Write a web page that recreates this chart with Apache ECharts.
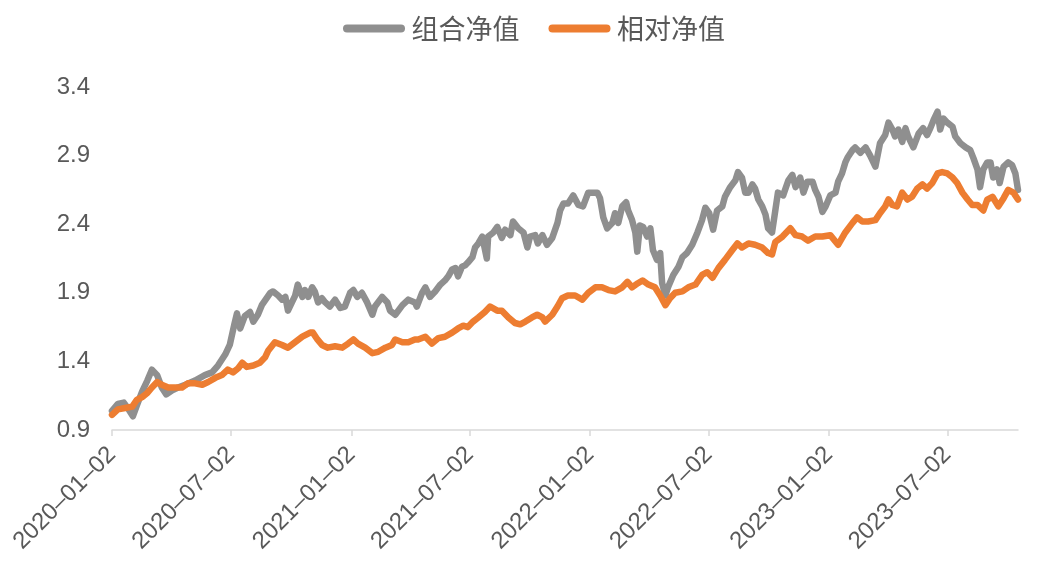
<!DOCTYPE html>
<html><head><meta charset="utf-8">
<script src="https://cdn.jsdelivr.net/npm/echarts@6/dist/echarts.min.js"></script>
<style>html,body{margin:0;padding:0;background:#fff}#c{width:1041px;height:564px}</style>
</head><body><div id="c"></div>
<script>
const seriesNames = ['组合净值', '相对净值'];
const startDate = '2020-01-02';
const endDate = '2023-10-18';
const tickDates = ['2020-01-02','2020-07-02','2021-01-02','2021-07-02','2022-01-02','2022-07-02','2023-01-02','2023-07-02'];
const yMin = 0.9, yMax = 3.4, yStep = 0.5;

const grayDates = ['2020-01-02','2020-01-11','2020-01-20','2020-01-26','2020-02-03','2020-02-09','2020-02-17','2020-02-25','2020-03-03','2020-03-11','2020-03-18','2020-03-25','2020-04-03','2020-04-12','2020-04-23','2020-05-08','2020-05-23','2020-06-03','2020-06-12','2020-06-23','2020-06-30','2020-07-07','2020-07-11','2020-07-16','2020-07-23','2020-07-31','2020-08-05','2020-08-12','2020-08-18',
'2020-08-31','2020-09-04','2020-09-12','2020-09-18','2020-09-23','2020-09-27','2020-10-03','2020-10-08','2020-10-12','2020-10-19','2020-10-23','2020-10-28','2020-11-03','2020-11-07','2020-11-12','2020-11-18','2020-11-23','2020-11-30','2020-12-08','2020-12-16','2020-12-23','2020-12-31',
'2021-01-05','2021-01-11','2021-01-18','2021-01-26','2021-02-03','2021-02-07','2021-02-18','2021-02-26','2021-03-02','2021-03-10','2021-03-21','2021-03-30','2021-04-09',
'2021-04-12','2021-04-20','2021-04-25','2021-05-02','2021-05-10','2021-05-18','2021-05-25','2021-05-30','2021-06-05','2021-06-10','2021-06-14','2021-06-20','2021-06-25','2021-06-29','2021-07-06','2021-07-10','2021-07-15','2021-07-21','2021-07-28','2021-07-30','2021-08-07','2021-08-13','2021-08-20','2021-08-25','2021-09-02','2021-09-06','2021-09-14','2021-09-22','2021-09-28','2021-10-02','2021-10-10','2021-10-14','2021-10-21','2021-10-28','2021-11-05','2021-11-13','2021-11-17','2021-11-22',
'2021-11-29','2021-12-07','2021-12-15','2021-12-22','2021-12-30',
'2022-01-07','2022-01-13','2022-01-17','2022-01-22','2022-01-28','2022-02-05','2022-02-09','2022-02-14','2022-02-20','2022-02-26','2022-03-01','2022-03-07','2022-03-12','2022-03-15','2022-03-19','2022-03-24','2022-03-30','2022-04-04','2022-04-08','2022-04-14','2022-04-19','2022-04-22','2022-04-27','2022-05-01','2022-05-09','2022-05-17','2022-05-23','2022-05-30','2022-06-07','2022-06-15','2022-06-22','2022-06-27',
'2022-07-03','2022-07-09','2022-07-15','2022-07-23','2022-07-27','2022-08-04','2022-08-12','2022-08-16','2022-08-22','2022-08-27','2022-09-01','2022-09-07','2022-09-11','2022-09-16','2022-09-22','2022-09-27','2022-10-01','2022-10-07','2022-10-12','2022-10-16','2022-10-24','2022-11-01','2022-11-07','2022-11-12','2022-11-19','2022-11-24','2022-11-30','2022-12-08','2022-12-12','2022-12-17','2022-12-23','2022-12-28',
'2023-01-04','2023-01-12','2023-01-16','2023-01-22','2023-01-27','2023-01-31','2023-02-07','2023-02-11','2023-02-19','2023-02-27','2023-03-06','2023-03-14','2023-03-21','2023-03-29','2023-04-03','2023-04-09','2023-04-13','2023-04-18','2023-04-24','2023-04-29','2023-05-03','2023-05-11','2023-05-19','2023-05-26','2023-06-01','2023-06-06','2023-06-11','2023-06-17','2023-06-21','2023-06-26','2023-07-02','2023-07-10','2023-07-14','2023-07-22','2023-07-30','2023-08-06','2023-08-11','2023-08-17','2023-08-21','2023-08-26','2023-09-01','2023-09-06','2023-09-10','2023-09-16','2023-09-20','2023-09-26','2023-10-03','2023-10-09','2023-10-14','2023-10-18'];
const grayValues = [1.04,1.09,1.10,1.06,1.00,1.08,1.18,1.26,1.34,1.30,1.21,1.16,1.19,1.21,1.23,1.26,1.30,1.32,1.37,1.45,1.52,1.67,1.75,1.64,1.73,1.76,1.69,1.74,1.81,
1.90,1.91,1.88,1.85,1.87,1.77,1.83,1.88,1.96,1.87,1.92,1.87,1.94,1.91,1.83,1.86,1.83,1.80,1.85,1.79,1.80,1.90,
1.92,1.87,1.90,1.83,1.74,1.80,1.87,1.83,1.77,1.74,1.81,1.85,1.83,
1.80,1.90,1.94,1.87,1.91,1.96,1.99,2.02,2.07,2.08,2.02,2.09,2.10,2.12,2.16,2.23,2.26,2.31,2.15,2.31,2.34,2.38,2.30,2.36,2.32,2.42,2.37,2.34,2.23,2.31,2.32,2.26,2.32,2.25,2.30,2.41,2.50,2.55,
2.55,2.61,2.54,2.53,2.63,
2.63,2.63,2.59,2.45,2.37,2.41,2.48,2.41,2.53,2.56,2.50,2.43,2.34,2.20,2.39,2.38,2.31,2.37,2.21,2.14,2.19,1.97,1.88,1.94,2.03,2.09,2.16,2.19,2.25,2.34,2.43,2.52,
2.48,2.36,2.50,2.53,2.60,2.67,2.72,2.78,2.74,2.63,2.63,2.69,2.66,2.58,2.53,2.47,2.37,2.34,2.50,2.63,2.61,2.72,2.76,2.67,2.74,2.63,2.71,2.71,2.65,2.60,2.49,2.53,
2.61,2.63,2.71,2.77,2.85,2.89,2.94,2.96,2.92,2.96,2.90,2.82,2.99,3.05,3.14,3.09,3.04,3.09,3.00,3.10,3.04,2.96,3.06,3.10,3.05,3.10,3.16,3.22,3.09,3.17,3.14,3.11,3.04,2.99,2.96,2.94,2.88,2.80,2.67,2.80,2.85,2.85,2.74,2.80,2.70,2.82,2.85,2.83,2.77,2.65];

const orangeDates = ['2020-01-02','2020-01-11','2020-01-22','2020-02-02','2020-02-09','2020-02-17','2020-02-25','2020-03-03','2020-03-11','2020-03-18','2020-03-28','2020-04-07','2020-04-18','2020-04-27','2020-05-08','2020-05-19','2020-05-28','2020-06-08','2020-06-18','2020-06-27','2020-07-05','2020-07-13','2020-07-19','2020-07-26','2020-08-05','2020-08-15','2020-08-23','2020-08-28','2020-09-07','2020-09-18','2020-09-27','2020-10-08','2020-10-19','2020-10-31','2020-11-04','2020-11-11','2020-11-18','2020-11-27','2020-12-08','2020-12-19','2020-12-28',
'2021-01-05','2021-01-12','2021-01-23','2021-02-03','2021-02-12','2021-02-23','2021-03-05','2021-03-10','2021-03-21','2021-03-30','2021-04-09','2021-04-14','2021-04-25','2021-05-05','2021-05-15','2021-05-25','2021-06-05','2021-06-14','2021-06-22','2021-06-29','2021-07-07','2021-07-15','2021-07-25','2021-08-02','2021-08-13','2021-08-20','2021-08-30','2021-09-09','2021-09-17','2021-09-25','2021-10-05','2021-10-13','2021-10-21','2021-10-25','2021-11-05','2021-11-13','2021-11-20','2021-11-29','2021-12-10','2021-12-21','2021-12-30',
'2022-01-10','2022-01-20','2022-01-30','2022-02-09','2022-02-20','2022-02-28','2022-03-07','2022-03-16','2022-03-23','2022-04-01','2022-04-11','2022-04-19','2022-04-27','2022-05-04','2022-05-12','2022-05-23','2022-06-01','2022-06-12','2022-06-22','2022-06-30','2022-07-08','2022-07-17','2022-07-27','2022-08-07','2022-08-15','2022-08-22','2022-09-01','2022-09-11','2022-09-22','2022-10-01','2022-10-07','2022-10-12','2022-10-23','2022-11-04','2022-11-12','2022-11-22','2022-12-01','2022-12-12','2022-12-23',
'2023-01-04','2023-01-16','2023-01-27','2023-02-07','2023-02-14','2023-02-22','2023-03-03','2023-03-14','2023-03-21','2023-03-29','2023-04-03','2023-04-09','2023-04-16','2023-04-24','2023-05-02','2023-05-09','2023-05-17','2023-05-25','2023-06-01','2023-06-09','2023-06-17','2023-06-24','2023-07-02','2023-07-10','2023-07-17','2023-07-25','2023-08-02','2023-08-09','2023-08-17','2023-08-26','2023-09-01','2023-09-09','2023-09-18','2023-09-26','2023-10-03','2023-10-11','2023-10-18'];
const orangeValues = [1.01,1.05,1.06,1.07,1.12,1.14,1.17,1.21,1.25,1.23,1.21,1.21,1.21,1.24,1.24,1.23,1.25,1.28,1.30,1.34,1.32,1.35,1.39,1.36,1.37,1.39,1.43,1.48,1.54,1.52,1.50,1.54,1.58,1.61,1.61,1.56,1.52,1.50,1.51,1.50,1.53,
1.56,1.53,1.50,1.46,1.47,1.50,1.52,1.56,1.54,1.54,1.56,1.56,1.58,1.53,1.57,1.58,1.61,1.64,1.66,1.65,1.69,1.72,1.76,1.80,1.77,1.77,1.72,1.68,1.67,1.69,1.72,1.74,1.72,1.69,1.74,1.80,1.86,1.88,1.88,1.85,1.90,
1.94,1.94,1.92,1.91,1.94,1.98,1.94,1.97,1.99,1.96,1.94,1.88,1.81,1.86,1.90,1.91,1.94,1.96,2.03,2.05,2.01,2.08,2.14,2.21,2.26,2.23,2.26,2.25,2.23,2.19,2.18,2.27,2.31,2.37,2.32,2.31,2.28,2.31,2.31,
2.32,2.25,2.34,2.41,2.45,2.42,2.42,2.43,2.48,2.53,2.58,2.54,2.53,2.63,2.58,2.60,2.66,2.69,2.66,2.70,2.77,2.78,2.77,2.74,2.70,2.63,2.58,2.54,2.54,2.50,2.58,2.60,2.53,2.59,2.65,2.63,2.58];

function pad(n){ return (n < 10 ? '0' : '') + n; }
function buildDays(a, b){
  const out = [];
  const p = s => s.split('-').map(Number);
  const [y1,m1,d1] = p(a), [y2,m2,d2] = p(b);
  let t = Date.UTC(y1, m1-1, d1); const end = Date.UTC(y2, m2-1, d2);
  while (t <= end){ const dt = new Date(t); out.push(dt.getUTCFullYear()+'-'+pad(dt.getUTCMonth()+1)+'-'+pad(dt.getUTCDate())); t += 86400000; }
  return out;
}
const days = buildDays(startDate, endDate);
const tickSet = new Set(tickDates);
const pairs = (ds, vs) => ds.map((d, i) => [d, vs[i]]);
const showTick = (i, v) => tickSet.has(v);

const chart = echarts.init(document.getElementById('c'), null, {renderer: 'canvas'});
chart.setOption({
  animation: false,
  backgroundColor: '#ffffff',
  color: ['#8f8f8f', '#ed7d31'],
  legend: {
    data: seriesNames,
    top: 10, left: 338,
    itemWidth: 65, itemHeight: 8, itemGap: 29,
    icon: 'path://M4,0H58A4,4,0,0,1,58,8H4A4,4,0,0,1,4,0Z',
    textStyle: {fontSize: 27, color: '#595959', fontFamily: '"Noto Sans CJK SC", sans-serif'}
  },
  grid: {left: 112, right: 23, top: 87, bottom: 134, containLabel: false},
  xAxis: {
    type: 'category', data: days, boundaryGap: false,
    axisLine: {lineStyle: {color: '#d9d9d9', width: 1.5}},
    axisTick: {show: true, interval: showTick, length: 6, lineStyle: {color: '#d9d9d9', width: 1.5}},
    axisLabel: {interval: showTick, rotate: 45, fontSize: 24, color: '#595959', margin: 21,
      fontFamily: '"Liberation Sans", Arial, sans-serif', formatter: v => v.replace(/-/g, '\u2013')},
    splitLine: {show: false}
  },
  yAxis: {
    type: 'value', min: yMin, max: yMax, interval: yStep,
    axisLine: {show: false}, axisTick: {show: false}, splitLine: {show: false},
    axisLabel: {fontSize: 24, color: '#595959', margin: 22, fontFamily: '"Liberation Sans", Arial, sans-serif',
      formatter: v => v.toFixed(1)}
  },
  series: [
    {name: seriesNames[0], type: 'line', data: pairs(grayDates, grayValues), showSymbol: false, symbol: 'none',
      lineStyle: {width: 6.5, color: '#8f8f8f', cap: 'round', join: 'round'}, itemStyle: {color: '#8f8f8f'}, emphasis: {disabled: true}},
    {name: seriesNames[1], type: 'line', data: pairs(orangeDates, orangeValues), showSymbol: false, symbol: 'none',
      lineStyle: {width: 6.5, color: '#ed7d31', cap: 'round', join: 'round'}, itemStyle: {color: '#ed7d31'}, emphasis: {disabled: true}}
  ]
});
</script>
</body></html>
